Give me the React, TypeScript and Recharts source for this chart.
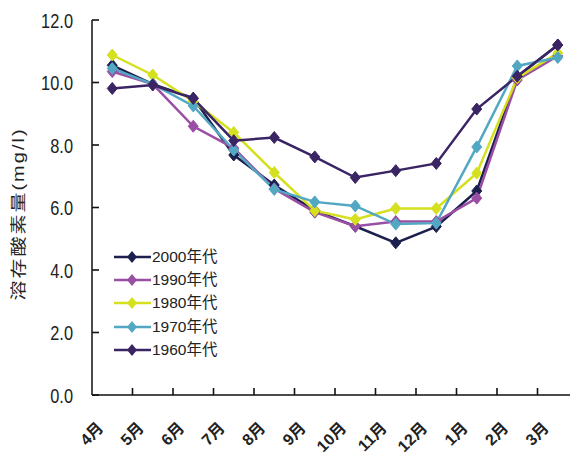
import React from 'react';
import { LineChart, Line, XAxis, YAxis, Legend } from 'recharts';

const months = ['4月', '5月', '6月', '7月', '8月', '9月', '10月', '11月', '12月', '1月', '2月', '3月'];
const d2000 = [10.55, 9.95, 9.5, 7.68, 6.72, 5.9, 5.4, 4.87, 5.39, 6.53, 10.18, 11.2];
const d1990 = [10.35, 9.95, 8.6, 7.9, 6.6, 5.85, 5.4, 5.55, 5.55, 6.3, 10.08, 10.85];
const d1980 = [10.88, 10.24, 9.4, 8.4, 7.12, 5.9, 5.62, 5.97, 5.97, 7.1, 10.15, 10.94];
const d1970 = [10.45, 9.95, 9.25, 7.84, 6.58, 6.18, 6.05, 5.47, 5.5, 7.94, 10.53, 10.8];
const d1960 = [9.81, 9.92, 9.49, 8.14, 8.24, 7.62, 6.96, 7.18, 7.41, 9.15, 10.2, 11.2];
const yTicks = [0, 2, 4, 6, 8, 10, 12];
const boundaryTicks = [0, 1, 2, 3, 4, 5, 6, 7, 8, 9, 10, 11, 12];

const series = [
  { key: 's2000', name: '2000年代', values: d2000, color: '#1d1f4f' },
  { key: 's1990', name: '1990年代', values: d1990, color: '#9a4ea4' },
  { key: 's1980', name: '1980年代', values: d1980, color: '#d5e01f' },
  { key: 's1970', name: '1970年代', values: d1970, color: '#52a8c3' },
  { key: 's1960', name: '1960年代', values: d1960, color: '#3a2464' },
];

// each month sits in the middle of its slot on a 0..12 axis
const data = months.map((m, i) => {
  const row: Record<string, any> = { month: m, pos: i + 0.5 };
  series.forEach((s) => {
    row[s.key] = s.values[i];
  });
  return row;
});

const FONT = '"Liberation Sans", Arial, "Noto Sans CJK JP", sans-serif';
const AXIS = '#111';
const SLOT = (578 - 92) / 12;

const makeDot = (color: string) => (props: any) => {
  const { cx, cy, index } = props;
  if (cx == null || cy == null) return <g key={index} />;
  const d = `M${cx},${cy - 6} L${cx + 5},${cy} L${cx},${cy + 6} L${cx - 5},${cy} Z`;
  return <path key={index} d={d} fill={color} stroke={color} strokeWidth={1} />;
};

const YTick = (props: any) => {
  const { x, y, payload } = props;
  return (
    <g transform={`translate(${x},${y})`}>
      <path d="M19,0 H26" stroke={AXIS} strokeWidth={1.6} />
      <text
        x={0}
        y={0}
        dy="0.36em"
        textAnchor="end"
        transform="scale(0.78,1)"
        fontSize={21}
        fontFamily={FONT}
        fill="#222"
      >
        {Number(payload.value).toFixed(1)}
      </text>
    </g>
  );
};

const XTick = (props: any) => {
  const { x, y, payload } = props;
  const v = Math.round(Number(payload.value));
  const label = months[v];
  return (
    <g>
      {v > 0 && v < 12 ? <path d={`M${x},${y} V${y - 7}`} stroke={AXIS} strokeWidth={1.6} /> : null}
      {label ? (
        <g transform={`translate(${x + SLOT / 2 - 8},${y + 34})`}>
          <text
            x={0}
            y={0}
            textAnchor="end"
            transform="rotate(-45)"
            fontSize={16}
            fontWeight="bold"
            fontFamily={FONT}
            fill="#222"
          >
            {label}
          </text>
        </g>
      ) : null}
    </g>
  );
};

const LegendContent = () => (
  <div style={{ fontFamily: FONT }}>
    {series.map((s) => (
      <div key={s.key} style={{ display: 'flex', alignItems: 'center', height: 23.3 }}>
        <svg width={38} height={16} style={{ display: 'block' }}>
          <line x1={0} y1={8} x2={37} y2={8} stroke={s.color} strokeWidth={2.5} />
          <path d="M18,2 L23,8 L18,14 L13,8 Z" fill={s.color} />
        </svg>
        <span style={{ fontSize: 15.5, color: '#222', lineHeight: '16px' }}>{s.name}</span>
      </div>
    ))}
  </div>
);

export default function App() {
  return (
    <div style={{ position: 'absolute', left: 0, top: 0, width: 570, height: 455, overflow: 'hidden', background: '#fff' }}>
      <div
        style={{
          position: 'absolute',
          left: 17,
          top: 214,
          transform: 'translate(-50%, -50%) rotate(-90deg) scaleY(0.78)',
          whiteSpace: 'nowrap',
          fontSize: 20,
          letterSpacing: 2,
          color: '#222',
          fontFamily: FONT,
        }}
      >
        溶存酸素量(mg/l)
      </div>
      <LineChart width={578} height={455} data={data} margin={{ top: 20, right: 0, left: 0, bottom: 0 }}>
        <XAxis
          dataKey="pos"
          type="number"
          domain={[0, 12]}
          ticks={boundaryTicks}
          interval={0}
          allowDataOverflow
          height={60}
          tickSize={0}
          tickMargin={0}
          tickLine={false}
          axisLine={{ stroke: AXIS, strokeWidth: 1.5 }}
          tick={<XTick />}
        />
        <YAxis
          width={92}
          domain={[0, 12]}
          ticks={yTicks}
          interval={0}
          tickSize={0}
          tickMargin={19}
          tickLine={false}
          axisLine={{ stroke: AXIS, strokeWidth: 1.5 }}
          tick={<YTick />}
        />
        <Legend
          layout="vertical"
          align="center"
          verticalAlign="middle"
          content={<LegendContent />}
          wrapperStyle={{ position: 'absolute', left: 114, top: 245, width: 'auto', height: 'auto' }}
        />
        {series.map((s) => (
          <Line
            key={s.key}
            type="linear"
            dataKey={s.key}
            name={s.name}
            stroke={s.color}
            strokeWidth={2.5}
            dot={makeDot(s.color)}
            activeDot={false}
            isAnimationActive={false}
          />
        ))}
      </LineChart>
    </div>
  );
}
